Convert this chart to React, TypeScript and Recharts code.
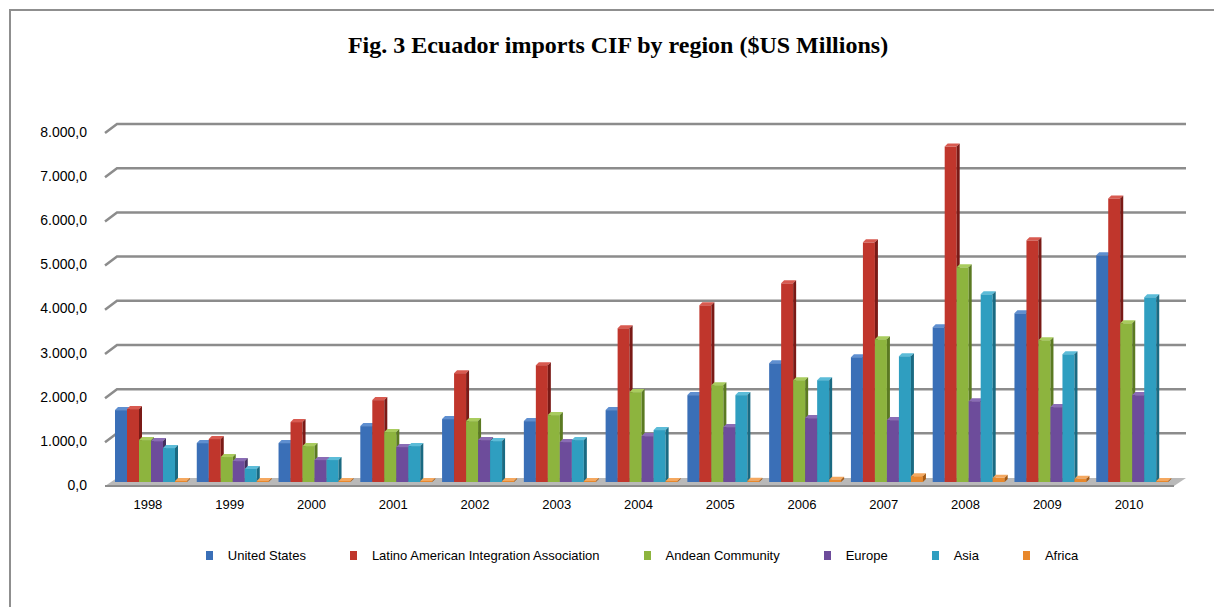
import React from "react";
import {
  BarChart,
  Bar,
  XAxis,
  YAxis,
  CartesianGrid,
} from "recharts";

const years = ["1998", "1999", "2000", "2001", "2002", "2003", "2004", "2005", "2006", "2007", "2008", "2009", "2010"];

const unitedStates = [1695, 949, 949, 1333, 1492, 1446, 1695, 2034, 2757, 2893, 3570, 3887, 5198];
const latinoAmerican = [1718, 1040, 1424, 1921, 2531, 2712, 3548, 4068, 4565, 5491, 7661, 5537, 6486];
const andeanCommunity = [1017, 633, 881, 1198, 1446, 1582, 2102, 2260, 2373, 3299, 4927, 3277, 3661];
const europe = [994, 542, 565, 859, 1017, 972, 1107, 1311, 1514, 1469, 1898, 1763, 2034];
const asia = [836, 362, 565, 881, 994, 1017, 1243, 2034, 2373, 2915, 4316, 2960, 4249];
const africa = [30, 20, 20, 20, 20, 20, 20, 95, 120, 200, 165, 140, 80];

const yTicks = [0, 1000, 2000, 3000, 4000, 5000, 6000, 7000, 8000];

const seriesList = [
  { key: "us", name: "United States", values: unitedStates, color: "#3a6fb7", side: "#234a80", top: "#5f8fd0" },
  { key: "laia", name: "Latino American Integration Association", values: latinoAmerican, color: "#c0362c", side: "#7a1a16", top: "#d85a50" },
  { key: "andean", name: "Andean Community", values: andeanCommunity, color: "#8db43e", side: "#5b7a22", top: "#a9cc5e" },
  { key: "europe", name: "Europe", values: europe, color: "#6d4c9b", side: "#45305f", top: "#8a6cb5" },
  { key: "asia", name: "Asia", values: asia, color: "#2f9ec0", side: "#1a6a82", top: "#5cbcd8" },
  { key: "africa", name: "Africa", values: africa, color: "#e8882c", side: "#a45a14", top: "#f4a860" },
];

const data = years.map((year, i) => {
  const row: Record<string, string | number> = { year };
  seriesList.forEach((s) => {
    row[s.key] = s.values[i];
  });
  return row;
});

const DX = 3;
const DY = 3;
const PLOT_BOTTOM = 482;

function formatValue(v: number) {
  const whole = Math.round(v)
    .toString()
    .replace(/\B(?=(\d{3})+(?!\d))/g, ".");
  return whole + ",0";
}

function makeBarShape(color: string, side: string, top: string) {
  return (props: any) => {
    const { x, y, width, height } = props;
    const bottom = y + height;
    const frontTop = Math.min(y + DY, bottom - 1);
    const w = width;
    return (
      <g>
        <rect x={x} y={frontTop} width={w} height={bottom - frontTop} fill={color} />
        <polygon
          points={`${x},${frontTop} ${x + DX},${frontTop - DY} ${x + w + DX},${frontTop - DY} ${x + w},${frontTop}`}
          fill={top}
        />
        <polygon
          points={`${x + w},${frontTop} ${x + w + DX},${frontTop - DY} ${x + w + DX},${bottom - DY} ${x + w},${bottom}`}
          fill={side}
        />
      </g>
    );
  };
}

// back wall grid line with small slanted start; the zero line becomes the floor
function GridLine(props: any) {
  const { x1, x2, y1 } = props;
  if (Math.abs(y1 - PLOT_BOTTOM) < 2) {
    return (
      <g>
        <polygon
          points={`${x1 - 6},${y1 + 4} ${x1 + 6},${y1 - 4} ${x2 + 6},${y1 - 4} ${x2 - 6},${y1 + 4}`}
          fill="#b9b9b9"
        />
        <line x1={x1 - 6} y1={y1 + 4} x2={x2 - 6} y2={y1 + 4} stroke="#8c8c8c" strokeWidth={2} />
      </g>
    );
  }
  return (
    <polyline
      points={`${x1 - 6},${y1 + 4.5} ${x1 + 6},${y1 - 4.5} ${x2 + 6},${y1 - 4.5}`}
      fill="none"
      stroke="#8c8c8c"
      strokeWidth={2.5}
    />
  );
}

function YTick(props: any) {
  const { x, y, payload } = props;
  return (
    <text
      x={x - 24}
      y={y + 4.5}
      textAnchor="end"
      dominantBaseline="middle"
      fontSize={14}
      fill="#000"
      fontFamily="'Liberation Sans', Arial, sans-serif"
    >
      {formatValue(payload.value)}
    </text>
  );
}

function XTick(props: any) {
  const { x, y, payload } = props;
  return (
    <text
      x={x - 4}
      y={y + 19}
      textAnchor="middle"
      fontSize={13}
      fill="#000"
      fontFamily="'Liberation Sans', Arial, sans-serif"
    >
      {payload.value}
    </text>
  );
}

export default function App() {
  return (
    <div
      style={{
        position: "absolute",
        left: 0,
        top: 0,
        width: 1214,
        height: 607,
        background: "#fff",
        overflow: "hidden",
      }}
    >
      <div
        style={{
          position: "absolute",
          left: 9,
          top: 9,
          width: 1220,
          height: 620,
          borderLeft: "2px solid #8f8f8f",
          borderTop: "2px solid #8f8f8f",
        }}
      />
      <div
        style={{
          position: "absolute",
          left: 0,
          top: 32,
          width: 1236,
          textAlign: "center",
          fontFamily: "'Liberation Serif', 'Times New Roman', serif",
          fontWeight: "bold",
          fontSize: 24,
          color: "#000",
        }}
      >
        Fig. 3 Ecuador imports CIF by region ($US Millions)
      </div>
      <div style={{ position: "absolute", left: 0, top: 0 }}>
        <BarChart
          width={1214}
          height={607}
          data={data}
          margin={{ top: 128.5, right: 34, left: 11, bottom: 95 }}
          barCategoryGap={4}
          barGap={0}
        >
          <CartesianGrid
            vertical={false}
            horizontal={(p: any) => <GridLine key={p.key} {...p} />}
            horizontalValues={yTicks}
          />
          <XAxis
            dataKey="year"
            axisLine={false}
            tickLine={false}
            tick={<XTick />}
            padding={{ left: 0, right: 6 }}
            interval={0}
            height={30}
          />
          <YAxis
            domain={[0, 8000]}
            ticks={yTicks}
            width={100}
            axisLine={false}
            tickLine={false}
            tickSize={0}
            tickMargin={0}
            tick={<YTick />}
            interval={0}
          />
          {seriesList.map((s) => (
            <Bar
              key={s.key}
              dataKey={s.key}
              name={s.name}
              fill={s.color}
              minPointSize={2}
              isAnimationActive={false}
              shape={makeBarShape(s.color, s.side, s.top)}
            />
          ))}
        </BarChart>
      </div>
      <div
        style={{
          position: "absolute",
          left: 114,
          top: 548,
          width: 1100,
          display: "flex",
          justifyContent: "center",
          alignItems: "center",
          fontFamily: "'Liberation Sans', Arial, sans-serif",
          fontSize: 13,
          color: "#000",
        }}
      >
        {seriesList.map((s) => (
          <div key={s.key} style={{ display: "flex", alignItems: "center", marginRight: 44 }}>
            <span style={{ display: "inline-block", width: 7, height: 9, background: s.color, marginRight: 15 }} />
            <span>{s.name}</span>
          </div>
        ))}
      </div>
    </div>
  );
}
